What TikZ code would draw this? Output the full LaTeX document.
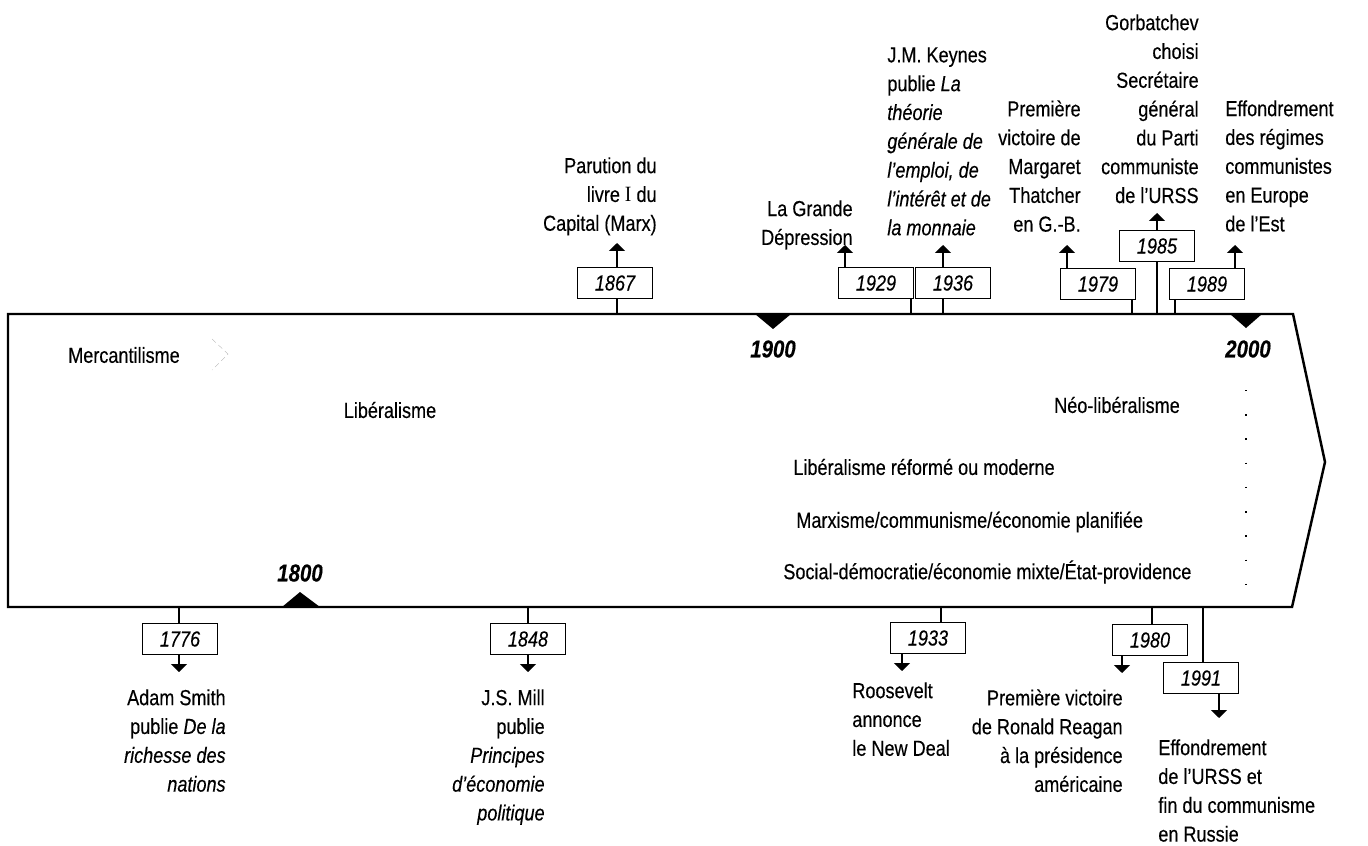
\documentclass[tikz,border=0pt]{standalone}
\usepackage{fontspec}
\setmainfont[FakeStretch=0.83, FakeBold=0.3]{Liberation Sans}
\newfontfamily\serifI[FakeStretch=0.9]{Liberation Serif}
\usetikzlibrary{arrows.meta}

\begin{document}
\begin{tikzpicture}[x=0.02cm, y=-0.02cm,
        every node/.style={inner sep=0pt, font=\fontsize{12.4}{16.4}\selectfont},
        yearbox/.style={draw, line width=0.9pt, minimum width=1.5cm, minimum height=0.62cm, font=\fontsize{12.4}{14}\selectfont\itshape},
        yearmark/.style={font=\fontsize{14}{15}\selectfont\bfseries\itshape},
        era/.style={anchor=west},
        rightnote/.style={anchor=north east, align=right},
        leftnote/.style={anchor=north west, align=left},
        stem/.style={line width=0.9pt},
        pointer/.style={line width=0.9pt, -{Triangle[width=9pt, length=4.5pt]}}]
    \useasboundingbox (0,0) rectangle (1368,845);

    % the band
    \draw[line width=1.4pt, line join=miter] (8,314) -- (1293,314) -- (1325,462) -- (1292,607) -- (8,607) -- cycle;
    \fill (755,314) -- (791,314) -- (773,329) -- cycle;
    \fill (1230,314) -- (1262,314) -- (1246,328) -- cycle;
    \fill (282,607) -- (320,607) -- (300,592) -- cycle;
    \node[yearmark] (m1800) at (300,573) {1800};
    \node[yearmark] (m1900) at (773,349) {1900};
    \node[yearmark] (m2000) at (1248,349) {2000};
    \draw[line width=0.8pt, dash pattern=on 0.8pt off 13pt] (1246,390) -- (1246,592);
    \draw[gray!60, very thin, dash pattern=on 3pt off 2pt] (212,339) -- (228,354) -- (212,370);

    % eras
    \node (merc) at (124,355) {Mercantilisme};
    \node (lib) at (390,410) {Libéralisme};
    \node (neo) at (1117,405) {Néo-libéralisme};
    \node[era] (mod) at (793,467) {Libéralisme réformé ou moderne};
    \node[era] (marx) at (796,522) {Marxisme/communisme/économie planifiée};
    \node[era] (socdem) at (783,572) {Social-démocratie/économie mixte/État-providence};

    % years
    \node[yearbox] (y1867) at (615,283) {1867};
    \node[yearbox] (y1929) at (876,283) {1929};
    \node[yearbox] (y1936) at (953,283) {1936};
    \node[yearbox] (y1979) at (1098,284) {1979};
    \node[yearbox] (y1985) at (1157,246) {1985};
    \node[yearbox] (y1989) at (1207,284) {1989};
    \node[yearbox] (y1776) at (180,639) {1776};
    \node[yearbox] (y1848) at (528,639) {1848};
    \node[yearbox] (y1933) at (928,638) {1933};
    \node[yearbox] (y1980) at (1150,640) {1980};
    \node[yearbox] (y1991) at (1201,678) {1991};

    \foreach \yr/\sx in {1867/617, 1929/911, 1936/943, 1979/1132, 1985/1157, 1989/1175}{
        \coordinate (s\yr) at (\sx,314);
        \draw[stem] (y\yr.south -| s\yr) -- (s\yr);
    }
    \foreach \yr/\sx in {1776/179, 1848/528, 1933/941, 1980/1152, 1991/1203}{
        \coordinate (s\yr) at (\sx,607);
        \draw[stem] (y\yr.north -| s\yr) -- (s\yr);
    }
    \foreach \yr/\ax/\ay in {1867/617/243, 1929/845/245, 1936/943/245, 1979/1067/245, 1985/1157/213, 1989/1235/245}{
        \coordinate (p\yr) at (\ax,\ay);
        \draw[pointer] (y\yr.north -| p\yr) -- (p\yr);
    }
    \foreach \yr/\ax/\ay in {1776/179/672, 1848/528/672, 1933/902/671, 1980/1122/673, 1991/1219/718}{
        \coordinate (p\yr) at (\ax,\ay);
        \draw[pointer] (y\yr.south -| p\yr) -- (p\yr);
    }

    % events
    \node[rightnote] (e1867) at (657,157) {Parution du\\livre {\serifI I} du\\Capital (Marx)};
    \node[rightnote] (e1929) at (853,200) {La Grande\\Dépression};
    \node[leftnote] (e1936) at (887,47) {J.M. Keynes\\publie \textit{La}\\\textit{théorie}\\\textit{générale de}\\\textit{l'emploi, de}\\\textit{l'intérêt et de}\\\textit{la monnaie}};
    \node[rightnote] (e1979) at (1081,100) {Première\\victoire de\\Margaret\\Thatcher\\en G.-B.};
    \node[rightnote] (e1985) at (1199,14) {Gorbatchev\\choisi\\Secrétaire\\général\\du Parti\\communiste\\de l'URSS};
    \node[leftnote] (e1989) at (1225,100) {Effondrement\\des régimes\\communistes\\en Europe\\de l'Est};
    \node[rightnote] (e1776) at (226,689) {Adam Smith\\publie \textit{De la}\\\textit{richesse des}\\\textit{nations}};
    \node[rightnote] (e1848) at (545,689) {J.S. Mill\\publie\\\textit{Principes}\\\textit{d'économie}\\\textit{politique}};
    \node[leftnote] (e1933) at (852,682) {Roosevelt\\annonce\\le New Deal};
    \node[rightnote] (e1980) at (1123,689) {Première victoire\\de Ronald Reagan\\à la présidence\\américaine};
    \node[leftnote] (e1991) at (1158,739) {Effondrement\\de l'URSS et\\fin du communisme\\en Russie};
\end{tikzpicture}
\end{document}
